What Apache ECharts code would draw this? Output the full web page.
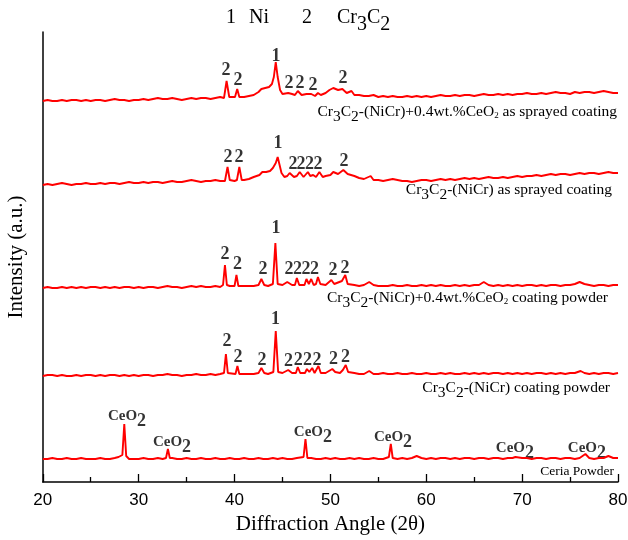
<!DOCTYPE html>
<html>
<head>
<meta charset="utf-8">
<title>XRD patterns</title>
<script src="https://cdn.jsdelivr.net/npm/echarts@6/dist/echarts.min.js"></script>
<style>
  html, body { margin: 0; padding: 0; background: #fff; }
  #main { width: 628px; height: 540px; }
</style>
</head>
<body>
<div id="main"></div>
<script>
// background intensity every 0.5 deg from 20 to 80 (height above each trace's own base)
var bgSprayCe = [
  0,1,0,0,1,0,1,1,0,1,0,1,1,0,1,2,1,1,0,1,
  1,2,1,2,3,2,2,3,2,1,2,3,2,3,3,2,3,4,3,3,
  4,4,4,5,6,9,12,14,16,20,8,7,7,8,6,7,6,7,6,8,
  11,12,11,10,9,7,6,5,5,6,4,5,4,5,4,4,5,4,5,4,
  5,4,5,6,5,5,6,5,6,6,5,6,7,6,6,7,6,7,6,7,
  7,8,7,7,8,7,8,9,8,8,7,9,8,9,9,8,9,10,9,8,
  8
];
var bgSprayNi = [
  0,1,0,1,2,1,0,1,1,2,1,1,2,1,2,2,1,2,3,2,
  2,3,2,3,3,2,3,4,3,3,4,5,4,3,4,4,5,4,4,4,
  4,5,5,6,8,11,13,14,16,22,10,9,9,9,8,9,8,9,8,9,
  10,11,12,11,10,9,7,6,6,5,5,4,5,6,5,4,4,3,4,5,
  5,4,5,6,5,6,5,6,7,6,7,6,7,8,7,7,8,7,8,9,
  8,9,9,10,9,10,11,10,11,11,10,11,12,11,12,12,11,12,13,12,
  12
];
var bgPowderCe = [
  0,1,0,0,1,0,1,0,1,0,1,1,0,1,0,1,0,1,1,0,
  1,0,1,1,0,1,2,1,1,0,1,2,1,2,1,1,2,1,2,2,
  2,1,2,2,2,3,3,2,3,5,3,2,3,3,3,3,3,4,3,3,
  3,4,4,3,4,3,2,3,2,3,2,2,2,3,2,2,3,2,2,3,
  2,3,2,3,2,2,3,2,3,2,3,3,6,3,2,3,2,3,2,3,
  2,3,3,2,3,2,3,3,2,3,3,4,6,4,3,2,3,3,2,3,
  3
];
var bgPowderNi = [
  0,1,1,0,1,0,0,1,0,1,1,0,1,0,1,1,0,1,0,1,
  0,1,1,0,1,1,2,1,1,0,1,1,2,1,1,2,1,2,2,1,
  2,1,2,2,2,3,2,2,3,4,3,2,3,2,3,3,3,3,4,3,
  3,4,3,4,4,3,2,2,3,2,2,3,2,2,3,2,2,3,2,2,
  3,2,2,3,2,3,2,2,3,2,3,2,3,2,3,3,2,3,2,3,
  2,3,2,3,3,2,3,2,3,2,3,3,5,3,2,3,2,3,3,2,
  3
];
var bgCeria = [
  0,0,1,0,0,1,0,0,1,0,0,0,1,0,0,1,0,1,0,0,
  0,1,0,0,1,0,0,1,0,0,1,0,0,1,0,0,1,0,0,1,
  0,0,1,0,0,1,0,0,1,0,1,0,0,1,0,0,1,0,0,1,
  0,1,0,0,1,0,1,0,0,1,0,0,1,0,0,1,0,1,0,1,
  0,1,0,1,1,0,1,0,1,1,0,1,1,0,1,1,0,1,1,0,
  1,1,0,1,1,0,1,1,0,1,1,0,1,1,1,0,1,1,0,1,
  1
];

// peak points [2theta, height]
var pkSprayCe = [
  [38.9,3],[39.17,20],[39.45,4],[40.05,4],[40.28,12],[40.5,4],
  [42.5,9],[42.8,12],[43.2,13],[43.6,14],[43.9,17],[44.1,24],[44.3,39],[44.5,24],[44.75,11],[45.0,7],
  [45.6,8],[46.3,6],[46.6,10],[47.0,6],[48.0,7],[48.4,5],[48.7,8],
  [49.9,11],[50.3,13],[50.8,11],[51.25,12],[51.7,8],[52.2,10],[52.5,6]
];
var pkSprayNi = [
  [39.0,4],[39.27,18],[39.5,5],[40.25,5],[40.5,18],[40.75,5],
  [42.6,10],[42.9,13],[43.3,13],[43.7,14],[44.0,17],[44.3,22],[44.5,28],[44.7,20],[44.9,12],[45.2,8],
  [45.75,12],[46.2,8],[46.8,13],[47.2,8],[47.65,13],[47.9,9],[48.2,10],[48.5,8],[48.85,13],[49.2,8],
  [50.0,10],[50.3,13],[50.8,11],[51.35,15],[51.8,11],[54.2,9]
];
var pkPowderCe = [
  [38.8,3],[39.0,23],[39.2,3],[40.0,2],[40.2,13],[40.4,2],
  [42.5,3],[42.8,9],[43.1,3],[44.0,4],[44.26,45],[44.5,4],
  [45.5,6],[46.3,3],[46.5,10],[46.75,3],[47.3,3],[47.5,9],[47.75,4],[48.0,9],[48.25,3],[48.5,4],[48.7,11],[48.95,4],
  [50.1,8],[50.4,4],[51.2,7],[51.55,13],[51.8,4],[54.05,6]
];
var pkPowderNi = [
  [38.9,3],[39.1,22],[39.3,3],[40.1,2],[40.3,10],[40.5,2],
  [42.5,3],[42.8,8],[43.1,3],[44.05,4],[44.3,45],[44.55,4],
  [45.6,6],[46.4,3],[46.6,9],[46.85,3],[47.35,3],[47.55,7],[47.8,4],[48.1,8],[48.35,3],[48.55,4],[48.75,10],[49.0,3],
  [50.2,7],[50.5,4],[51.3,6],[51.6,11],[51.85,4],[54.05,5],[76.1,5]
];
var pkCeria = [
  [27.9,2],[28.3,4],[28.5,35],[28.7,3],[32.85,1],[33.05,10],[33.25,1],
  [47.2,2],[47.4,20],[47.6,1],[56.1,2],[56.3,15],[56.5,1],
  [59.0,3],[69.3,2],[76.6,5],[79.0,3]
];

// vertical stacking base of each pattern
var bases = [381, 297, 194, 106, 23];

// peak labels [2theta, y, text]
var lblSprayCe = [[39.11,412,'2'],[40.36,402,'2'],[44.32,426,'1'],[45.68,399,'2'],[46.83,399,'2'],[48.19,397,'2'],[51.31,404,'2']];
var lblSprayNi = [[39.32,325,'2'],[40.47,325,'2'],[44.53,339,'1'],[46.10,318,'2'],[46.93,318,'2'],[47.82,318,'2'],[48.71,318,'2'],[51.42,320.5,'2']];
var lblPowderCe = [[39.0,228,'2'],[40.31,218,'2'],[42.97,213,'2'],[44.32,254,'1'],[45.68,212.5,'2'],[46.57,212.5,'2'],[47.45,213,'2'],[48.34,213,'2'],[50.27,212,'2'],[51.52,214,'2']];
var lblPowderNi = [[39.21,141,'2'],[40.36,125,'2'],[42.86,121.5,'2'],[44.27,163,'1'],[45.63,121,'2'],[46.65,121.5,'2'],[47.61,121.5,'2'],[48.60,121.5,'2'],[50.32,122.5,'2'],[51.57,124.5,'2']];
var lblCeria = [[28.78,66],[33.48,40],[48.18,50],[56.53,45],[69.25,34],[76.76,34]];

var serif = 'Liberation Serif, Times New Roman, serif';

function buildTrace(bg, peaks, base) {
  var pts = [];
  bg.forEach(function (v, i) {
    var a = 20 + i * 0.5;
    var near = peaks.some(function (p) { return Math.abs(p[0] - a) < 0.22; });
    if (!near) pts.push([a, v + base]);
  });
  peaks.forEach(function (p) { pts.push([p[0], p[1] + base]); });
  pts.sort(function (a, b) { return a[0] - b[0]; });
  return pts;
}

function lineSeries(data) {
  return {
    type: 'line', data: data, showSymbol: false, symbol: 'none',
    lineStyle: { color: '#ff0000', width: 1.9 }, silent: true
  };
}

function labelSeries(data, rich) {
  return {
    type: 'scatter', data: data, symbolSize: 1, silent: true,
    itemStyle: { color: 'rgba(0,0,0,0)' },
    label: {
      show: true, position: 'inside', color: '#000',
      fontFamily: serif, fontWeight: 'bold', fontSize: 18,
      formatter: rich ? '{b|CeO}{c|2}' : function (p) { return p.data[2]; },
      rich: rich
    }
  };
}

var crRich = {
  n: { fontSize: 15.5, fontFamily: serif, fill: '#000' },
  d: { fontSize: 15.5, fontFamily: serif, fill: '#000', padding: [10, 0, 0, 0] },
  t: { fontSize: 9, fontFamily: serif, fill: '#000', padding: [8, 0, 0, 0] }
};

function nameText(x, y, text, size) {
  var rich = crRich;
  if (size) {
    rich = { n: { fontSize: size, fontFamily: serif, fill: '#000' } };
  }
  return {
    type: 'text', x: x, y: y, silent: true,
    style: { text: text, align: 'right', verticalAlign: 'middle', fill: '#000', rich: rich }
  };
}

function plainText(x, y, text, rich) {
  return {
    type: 'text', x: x, y: y, silent: true,
    style: { text: text, align: 'left', verticalAlign: 'middle', fill: '#000',
             font: '20px ' + serif, rich: rich }
  };
}

var titleRich = {
  n: { fontSize: 20, fontFamily: serif, fill: '#000' },
  d: { fontSize: 20, fontFamily: serif, fill: '#000', padding: [13, 0, 0, 0] }
};

var chart = echarts.init(document.getElementById('main'));
chart.setOption({
  animation: false,
  grid: { left: 42.8, right: 10, top: 32, bottom: 58, containLabel: false, outerBoundsMode: 'none' },
  xAxis: {
    type: 'value', min: 20, max: 80, interval: 10,
    axisLine: { lineStyle: { color: '#000', width: 1.5 } },
    axisTick: { inside: true, length: 8, lineStyle: { color: '#000', width: 1.3 } },
    minorTick: { show: true, splitNumber: 2, length: 5, lineStyle: { color: '#000', width: 1.3 } },
    splitLine: { show: false },
    axisLabel: { fontFamily: 'Liberation Sans, Arial, sans-serif', fontSize: 17, color: '#000', margin: 10 },
    name: 'Diffraction Angle (2\u03b8)', nameLocation: 'middle', nameGap: 30,
    nameTextStyle: { fontFamily: serif, fontSize: 21, color: '#000' }
  },
  yAxis: {
    type: 'value', min: 0, max: 450,
    axisLine: { show: true, lineStyle: { color: '#000', width: 1.5 } },
    axisTick: { show: false }, axisLabel: { show: false }, splitLine: { show: false },
    name: 'Intensity (a.u.)', nameLocation: 'middle', nameGap: 16,
    nameTextStyle: { fontFamily: serif, fontSize: 21, color: '#000' }
  },
  series: [
    lineSeries(buildTrace(bgSprayCe, pkSprayCe, bases[0])),
    lineSeries(buildTrace(bgSprayNi, pkSprayNi, bases[1])),
    lineSeries(buildTrace(bgPowderCe, pkPowderCe, bases[2])),
    lineSeries(buildTrace(bgPowderNi, pkPowderNi, bases[3])),
    lineSeries(buildTrace(bgCeria, pkCeria, bases[4])),
    labelSeries(lblSprayCe),
    labelSeries(lblSprayNi),
    labelSeries(lblPowderCe),
    labelSeries(lblPowderNi),
    labelSeries(lblCeria, {
      b: { fontFamily: serif, fontWeight: 'bold', fontSize: 15, color: '#000' },
      c: { fontFamily: serif, fontWeight: 'bold', fontSize: 18, color: '#000', padding: [10, 0, 0, 0] }
    })
  ],
  graphic: [
    plainText(226, 18, '1'),
    plainText(249, 18, 'Ni'),
    plainText(302, 18, '2'),
    plainText(337, 18, '{n|Cr}{d|3}{n|C}{d|2}', titleRich),
    nameText(617, 112, '{n|Cr}{d|3}{n|C}{d|2}{n|-(NiCr)+0.4wt.%CeO}{t|2}{n| as sprayed coating}'),
    nameText(612, 190, '{n|Cr}{d|3}{n|C}{d|2}{n|-(NiCr) as sprayed coating}'),
    nameText(608, 298, '{n|Cr}{d|3}{n|C}{d|2}{n|-(NiCr)+0.4wt.%CeO}{t|2}{n| coating powder}'),
    nameText(610, 388, '{n|Cr}{d|3}{n|C}{d|2}{n|-(NiCr) coating powder}'),
    nameText(614, 471, '{n|Ceria Powder}', 13.5)
  ]
});
</script>
</body>
</html>
